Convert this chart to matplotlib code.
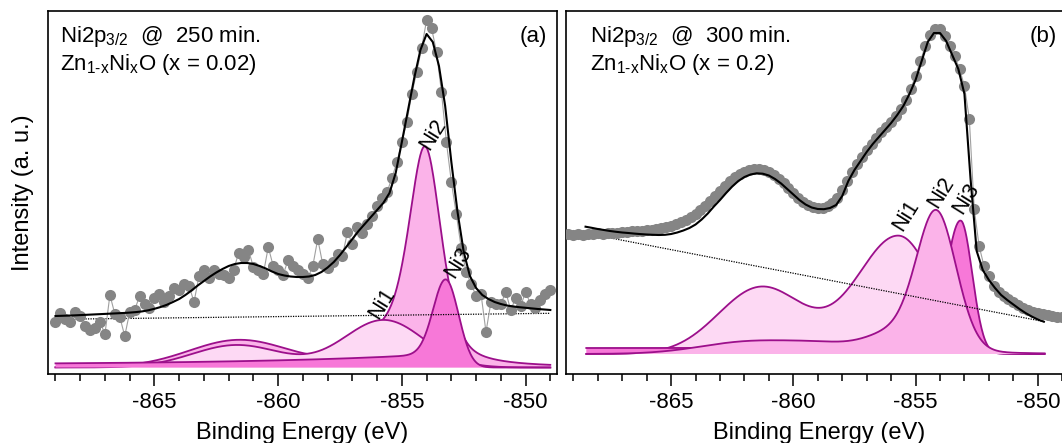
import math
import numpy as np
import matplotlib
matplotlib.use("Agg")
import matplotlib.pyplot as plt
from matplotlib.ticker import MultipleLocator

plt.rcParams['font.family'] = ['Liberation Sans', 'DejaVu Sans']
plt.rcParams['mathtext.fontset'] = 'custom'
plt.rcParams['mathtext.rm'] = 'Liberation Sans'
plt.rcParams['mathtext.it'] = 'Liberation Sans:italic'
plt.rcParams['mathtext.bf'] = 'Liberation Sans:bold'
plt.rcParams['axes.unicode_minus'] = False

# ---------------- data: panel (a) ----------------
energy_a = np.round(np.arange(-869.0, -848.99, 0.2), 2)
counts_a = [52, 61, 55, 52, 62, 58, 48, 44, 46, 52,
            40, 79, 60, 57, 38, 62, 64, 78, 70, 66,
            76, 80, 72, 78, 86, 84, 90, 88, 72, 98,
            104, 96, 104, 100, 99, 96, 104, 121, 117, 124,
            107, 104, 100, 127, 108, 104, 99, 114, 108, 104,
            100, 96, 108, 135, 110, 106, 112, 120, 118, 142,
            130, 147, 141, 150, 158, 168, 176, 182, 196, 212,
            232, 252, 280, 302, 326, 354, 346, 322, 282, 232,
            192, 160, 126, 102, 90, 78, 80, 42, 72, 70,
            70, 82, 64, 76, 68, 82, 70, 66, 74, 80,
            84]
fit_energy_a = np.round(np.arange(-869.0, -848.99, 0.25), 2)
fit_a = [58.0, 58.2, 58.4, 58.6, 58.9, 59.2, 59.5, 59.8, 60.1, 60.4,
         60.7, 61.0, 61.4, 61.9, 62.6, 63.7, 65.2, 67.0, 69.2, 72.0,
         75.0, 79.0, 83.5, 88.5, 93.0, 97.5, 101.5, 105.0, 108.0, 110.0,
         111.0, 111.0, 110.0, 108.0, 105.5, 102.5, 100.0, 98.5, 97.5, 97.0,
         97.0, 97.5, 99.0, 102.0, 106.5, 112.0, 119.0, 127.0, 135.0, 143.0,
         150.0, 157.0, 164.0, 171.0, 181.0, 201.0, 232.0, 264.0, 296.0, 324.0,
         340.0, 332.0, 308.0, 268.0, 212.0, 162.0, 122.0, 98.0, 86.0, 79.0,
         75.0, 72.0, 70.0, 68.5, 67.5, 66.8, 66.2, 65.6, 65.0, 64.5,
         64.0]
bg_a_energy = [-869.0, -849.0]
bg_a = [54.7, 60.7]
base_a = 6.5
comp_range_a = [-869.0, -849.0]
# peak parameters (center, height, width)
ni1_a = {"sat": (-861.67, 22.5, 1.8), "main": (-855.73, 47.5, 1.6, 1.6)}
ni2_a = {"pv": (-854.06, 217.5, 1.6, 0.5), "g": [(-856.0, 24.0, 1.0), (-861.6, 26.5, 2.0)]}
ni3_a = {"main": (-853.17, 80.5, 0.53, 0.50), "tail": (3.0, 11.0, 7.0, 0.4)}

# ---------------- data: panel (b) ----------------
energy_b = np.round(np.arange(-869.2, -848.99, 0.2), 2)
counts_b = [140, 139, 140, 139, 140, 140, 141, 140, 141, 141,
            141, 142, 142, 143, 143, 143, 144, 144, 145, 146,
            147, 148, 150, 152, 154, 157, 160, 164, 168, 173,
            178, 183, 188, 193, 197, 200, 202, 204, 205, 205,
            204, 202, 199, 195, 191, 186, 181, 176, 172, 169,
            167, 166, 166, 168, 171, 176, 184, 193, 202, 210,
            217, 224, 230, 236, 242, 247, 252, 258, 265, 274,
            285, 298, 313, 328, 339, 345, 345, 338, 328, 318,
            305, 288, 255, 165, 128, 108, 98, 88, 82, 78,
            75, 72, 69, 66, 64, 62, 61, 60, 59, 58,
            57, 57]
fit_energy_b = np.round(np.arange(-868.5, -849.74, 0.25), 2)
fit_b = [147.3, 146.2, 145.0, 144.0, 143.0, 142.2, 141.5, 141.0, 140.4, 139.9,
         139.5, 139.2, 139.0, 139.2, 140.0, 141.5, 143.5, 146.0, 149.5, 154.5,
         160.5, 167.5, 174.0, 181.0, 187.5, 193.0, 197.0, 199.5, 200.7, 200.3,
         198.5, 195.0, 190.5, 185.0, 179.5, 174.0, 169.5, 166.5, 165.0, 164.8,
         166.0, 169.0, 178.0, 193.0, 204.0, 213.0, 222.0, 230.0, 237.0, 244.0,
         251.0, 259.0, 268.0, 280.0, 294.0, 313.0, 332.0, 341.0, 341.0, 333.0,
         319.0, 305.0, 280.0, 195.0, 123.0, 104.0, 94.0, 86.0, 79.0, 74.0,
         69.5, 65.0, 61.0, 57.5, 54.5, 52.3]
bg_b_energy = [-868.47, -849.72]
bg_b = [140.7, 52.3]
base_b = 20.0
comp_range_b = [-868.47, -849.72]
ni1_b = {"sat": (-861.3, 67.0, 1.75), "main": (-855.7, 118.0, 1.7, 1.45)}
ni2_b = {"pv": (-854.15, 141.0, 1.95, 0.1),
         "g": [(-856.0, 16.0, 1.0), (-858.5, 8.0, 1.6), (-861.8, 12.0, 2.0)]}
ni3_b = {"main": (-853.12, 125.0, 0.60, 0.46), "tail": (6.0, 10.0, 1.0, 0.4)}

# ---------------- shapes ----------------
_erf = np.vectorize(math.erf)


def gauss(x, c, h, s):
    return h * np.exp(-(x - c) ** 2 / (2 * s ** 2))


def agauss(x, c, h, sl, sr):
    s = np.where(x < c, sl, sr)
    return h * np.exp(-(x - c) ** 2 / (2 * s ** 2))


def pvoigt(x, c, h, fwhm, eta):
    r2 = ((x - c) / (fwhm / 2)) ** 2
    return h * ((1 - eta) * np.exp(-np.log(2) * r2) + eta / (1 + r2))


def tail(x, c, b, a, lam, w):
    d = c - x
    step = 0.5 * (1 + _erf(d / w))
    return (b + a * np.exp(-np.clip(d, 0, None) / lam)) * step


def ni1_curve(x, p):
    return gauss(x, *p["sat"]) + agauss(x, *p["main"])


def ni2_curve(x, p):
    y = pvoigt(x, *p["pv"])
    for g in p["g"]:
        y = y + gauss(x, *g)
    return y


def ni3_curve(x, p):
    c = p["main"][0]
    return agauss(x, *p["main"]) + tail(x, c, *p["tail"])


# ---------------- style ----------------
C_LIGHT = '#fdd9f4'
C_MED = '#fbb3e9'
C_DARK = '#f778d8'
C_EDGE = '#9c0f8b'
C_DATA = '#858585'

fig = plt.figure(figsize=(10.62, 4.43), dpi=100)
H = 443.0
W = 1062.0
ax_a = fig.add_axes([48.3 / W, (H - 374) / H, 508.2 / W, 363 / H])
ax_b = fig.add_axes([566 / W, (H - 374) / H, 506 / W, 363 / H])


def draw_comp(ax, x, y, base, color, z):
    ax.fill_between(x, base, base + y, facecolor=color, edgecolor='none', zorder=z)
    ax.plot(x, base + y, color=C_EDGE, lw=1.3, zorder=z + 0.1)


def style_axis(ax, xlim):
    ax.set_xlim(*xlim)
    ax.set_ylim(0, 363)
    ax.xaxis.set_major_locator(MultipleLocator(5))
    ax.xaxis.set_minor_locator(MultipleLocator(1))
    ax.tick_params(axis='x', which='major', direction='out', length=8.6, width=1.1,
                   labelsize=16, pad=4, top=False)
    ax.tick_params(axis='x', which='minor', direction='out', length=5, width=1.1, top=False)
    ax.tick_params(axis='y', which='both', left=False, right=False, labelleft=False)
    for sp in ax.spines.values():
        sp.set_linewidth(1.2)
    ax.set_xlabel('Binding Energy (eV)', fontsize=17)
    ax.xaxis.set_label_coords(0.5, -0.133)


# ---------------- panel (a) ----------------
xa = np.linspace(comp_range_a[0], comp_range_a[1], 800)
draw_comp(ax_a, xa, ni2_curve(xa, ni2_a), base_a, C_MED, 1)
draw_comp(ax_a, xa, ni1_curve(xa, ni1_a), base_a, C_LIGHT, 2)
draw_comp(ax_a, xa, ni3_curve(xa, ni3_a), base_a, C_DARK, 3)
ax_a.plot(bg_a_energy, bg_a, color='black', lw=0.9, ls=(0, (1, 1)), zorder=4)
ax_a.plot(energy_a, counts_a, color='#a0a0a0', lw=0.8, zorder=5)
ax_a.plot(energy_a, counts_a, 'o', color=C_DATA, ms=8, mec='none', zorder=5)
ax_a.plot(fit_energy_a, fit_a, color='black', lw=1.5, zorder=6)
style_axis(ax_a, (-869.29, -848.75))
ax_a.set_ylabel('Intensity (a. u.)', fontsize=17)
ax_a.yaxis.set_label_coords(-0.028, 0.5)
ax_a.text(0.023, 0.915, r'Ni2p$_{\text{3/2}}$  @  250 min.', transform=ax_a.transAxes,
          fontsize=16, ha='left', va='baseline')
ax_a.text(0.023, 0.837, r'Zn$_{\text{1-x}}$Ni$_{\text{x}}$O (x = 0.02)', transform=ax_a.transAxes,
          fontsize=16, ha='left', va='baseline')
ax_a.text(0.982, 0.915, '(a)', transform=ax_a.transAxes, fontsize=16, ha='right', va='baseline')
for lab, ex, iy in [('Ni1', -855.8, 71), ('Ni2', -853.72, 240), ('Ni3', -852.72, 112)]:
    ax_a.text(ex, iy, lab, rotation=58, fontsize=15.5, ha='center', va='center',
              rotation_mode='anchor', zorder=7)

# ---------------- panel (b) ----------------
xb = np.linspace(comp_range_b[0], comp_range_b[1], 800)
draw_comp(ax_b, xb, ni1_curve(xb, ni1_b), base_b, C_LIGHT, 1)
draw_comp(ax_b, xb, ni3_curve(xb, ni3_b), base_b, C_DARK, 2)
draw_comp(ax_b, xb, ni2_curve(xb, ni2_b), base_b, C_MED, 3)
ax_b.plot(bg_b_energy, bg_b, color='black', lw=0.9, ls=(0, (1, 1)), zorder=4)
ax_b.plot(energy_b, counts_b, color='#a0a0a0', lw=0.8, zorder=5)
ax_b.plot(energy_b, counts_b, 'o', color=C_DATA, ms=8, mec='none', zorder=5)
ax_b.plot(fit_energy_b, fit_b, color='black', lw=1.5, zorder=6)
style_axis(ax_b, (-869.3, -848.6))
ax_b.text(0.048, 0.915, r'Ni2p$_{\text{3/2}}$  @  300 min.', transform=ax_b.transAxes,
          fontsize=16, ha='left', va='baseline')
ax_b.text(0.048, 0.837, r'Zn$_{\text{1-x}}$Ni$_{\text{x}}$O (x = 0.2)', transform=ax_b.transAxes,
          fontsize=16, ha='left', va='baseline')
ax_b.text(0.970, 0.915, '(b)', transform=ax_b.transAxes, fontsize=16, ha='right', va='baseline')
for lab, ex, iy in [('Ni1', -855.38, 159), ('Ni2', -853.96, 182), ('Ni3', -852.92, 176)]:
    ax_b.text(ex, iy, lab, rotation=58, fontsize=15.5, ha='center', va='center',
              rotation_mode='anchor', zorder=7)

fig.savefig('out.png', dpi=100)
